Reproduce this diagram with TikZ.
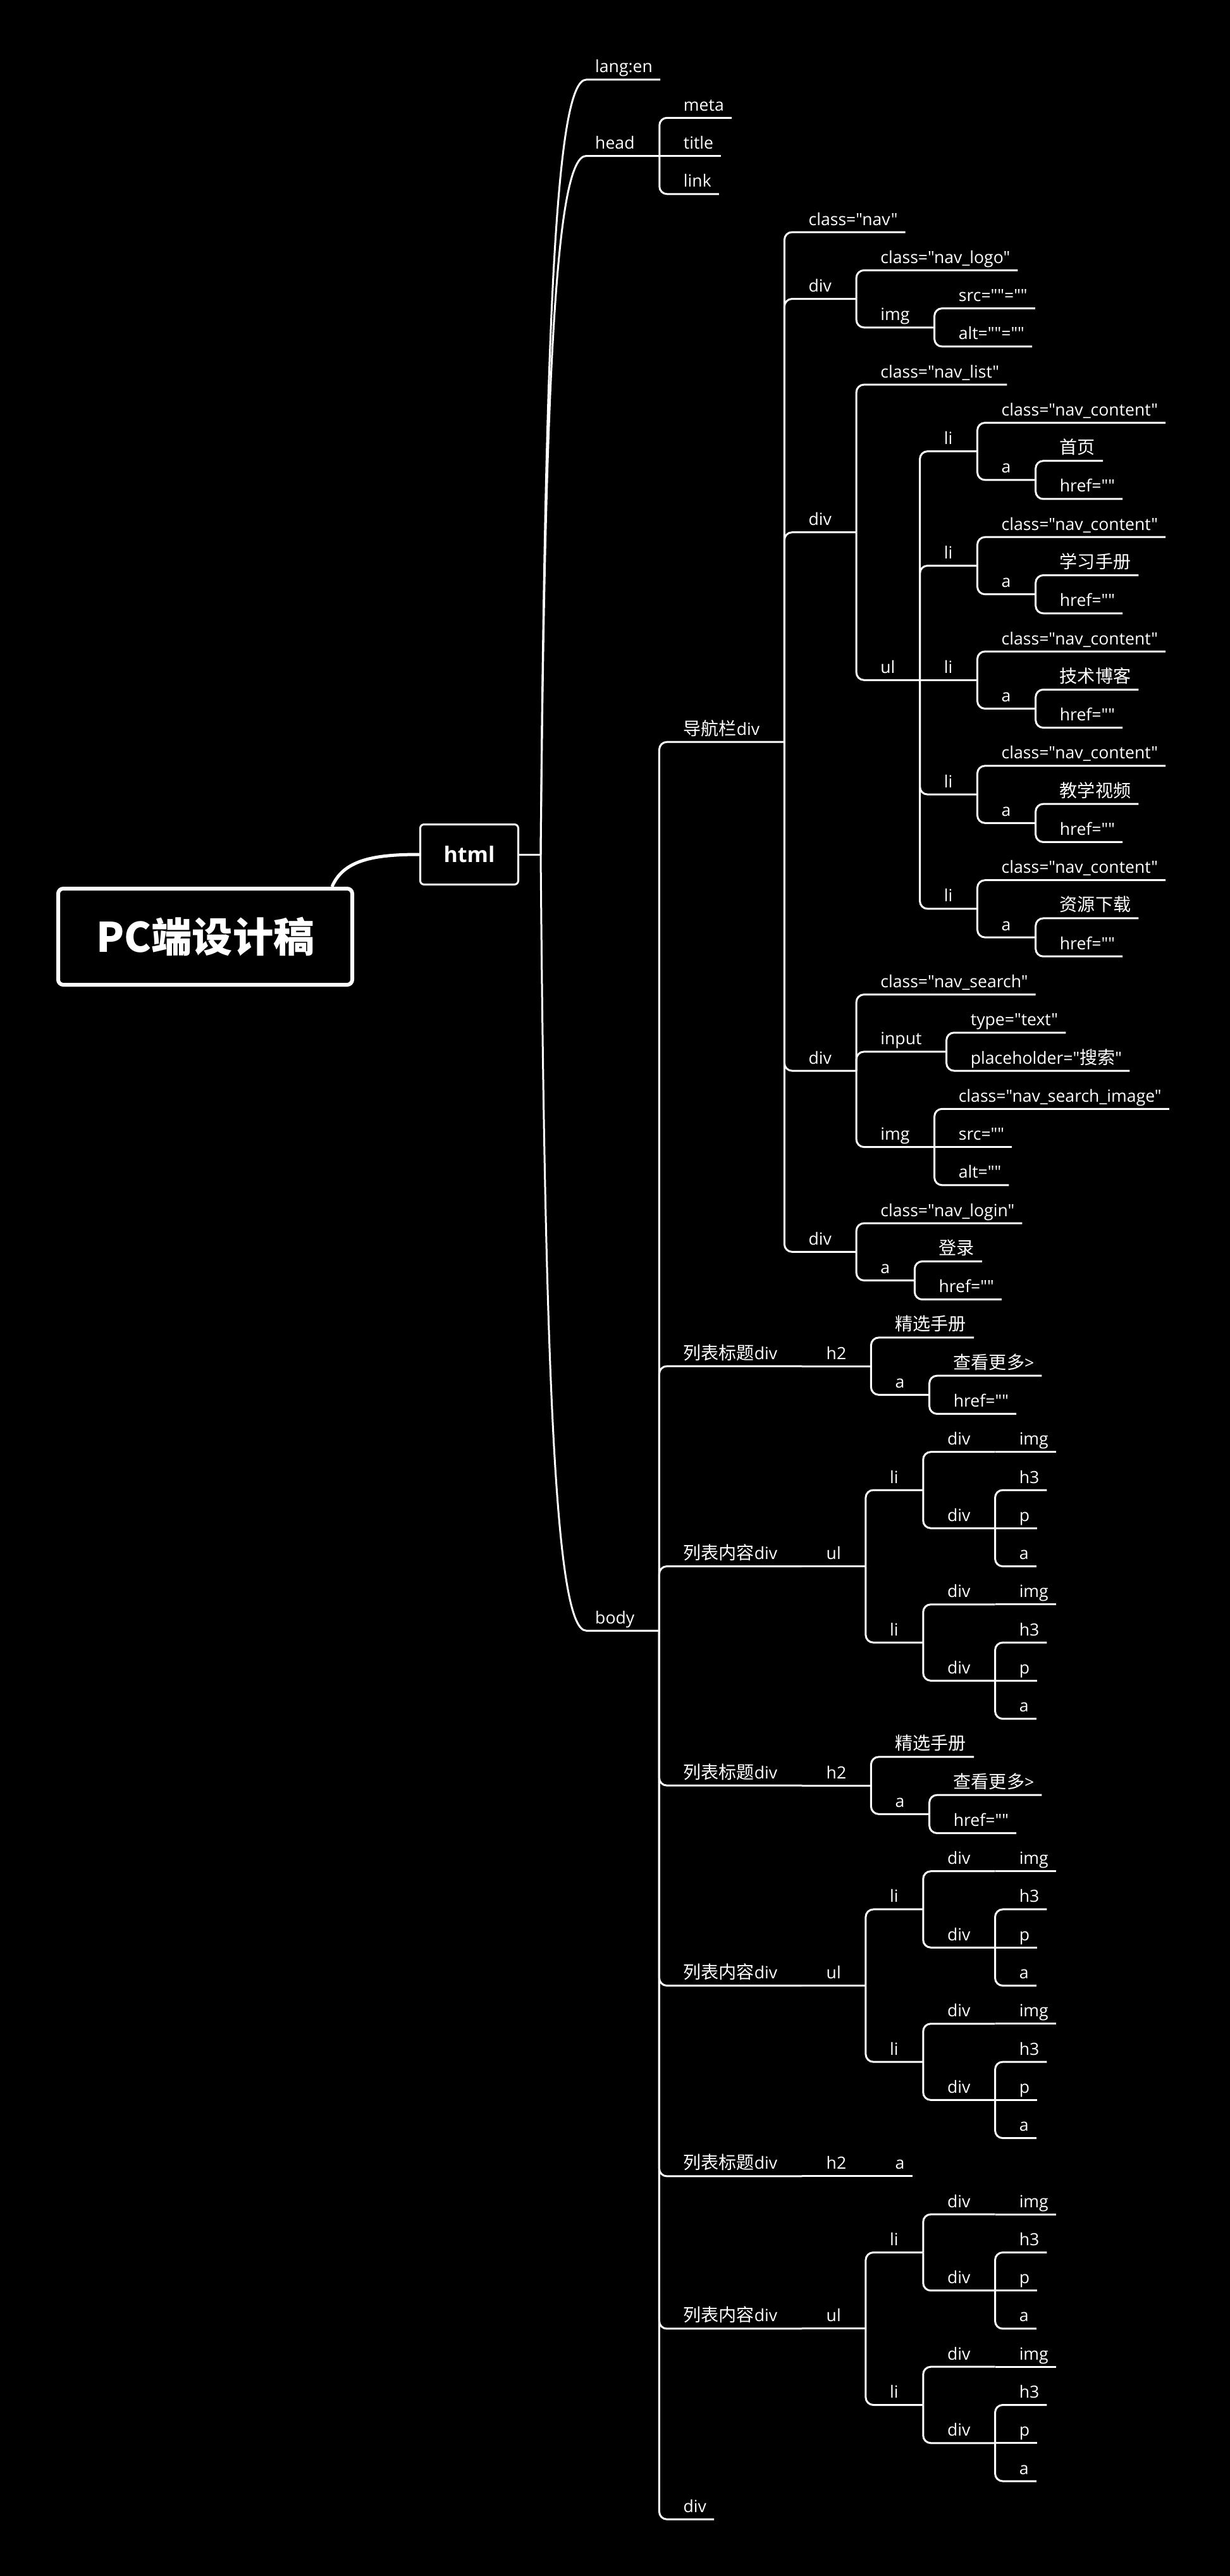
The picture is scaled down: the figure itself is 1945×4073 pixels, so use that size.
\documentclass[tikz,border=0pt]{standalone}
\usepackage{fontspec}
\newfontfamily\lat{Open Sans}
\newfontfamily\cjk{Noto Sans CJK SC}[Scale=1.055]
\usetikzlibrary{calc}
\tikzset{
  txt/.style={inner sep=0pt, anchor=base west, text=white, font=\lat\fontsize{26.6}{32}\selectfont},
  conn/.style={draw=white, line width=3pt, rounded corners=12pt},
  lvl1/.style={draw=white, line width=3pt},
  rootbox/.style={draw=white, line width=6pt, rounded corners=8pt, fill=black, text=white,
    minimum width=465pt, minimum height=152pt, inner sep=0pt, font=\cjk\bfseries\fontsize{61}{70}\selectfont},
  htmlbox/.style={draw=white, line width=3pt, rounded corners=6pt, fill=black, text=white,
    minimum width=155pt, minimum height=95pt, inner sep=0pt, font=\lat\bfseries\fontsize{34}{40}\selectfont},
}
\newcommand\RY[1]{126+60.27*(#1)}
% #1 path op, #2 name, #3 parent, #4 row, #5 pad, #6 text
\newcommand\kid[6][|-]{%
  \node[txt] (#2) at ($(#3-e |- 0,{\RY{#4}})+(38,-11)$) {#6};
  \coordinate (#2-e) at ($(#2.east |- 0,{\RY{#4}})+(#5,0)$);
  \draw[conn] (#3-e) #1 (#2-e);
}
\newcommand\navli[4][|-]{%
  \kid[#1]{#2}{nul}{#3+0.75}{39}{li}
  \kid{#2c}{#2}{#3}{12}{class="nav\_content"}
  \kid{#2a}{#2}{#3+1.5}{39}{a}
  \kid{#2t}{#2a}{#3+1}{12}{{\cjk #4}}
  \kid{#2h}{#2a}{#3+2}{12}{href=""}
}
\newcommand\titleblk[2]{%
  \kid{#1}{body}{#2+0.75}{39}{{\cjk 列表标题}div}
  \kid[--]{#1h}{#1}{#2+0.75}{39}{h2}
  \kid{#1s}{#1h}{#2}{12}{{\cjk 精选手册}}
  \kid{#1a}{#1h}{#2+1.5}{39}{a}
  \kid{#1m}{#1a}{#2+1}{12}{{\cjk 查看更多}>}
  \kid{#1r}{#1a}{#2+2}{12}{href=""}
}
\newcommand\listblk[2]{%
  \kid{#1}{body}{#2+3}{39}{{\cjk 列表内容}div}
  \kid[--]{#1u}{#1}{#2+3}{39}{ul}
  \kid{#1l}{#1u}{#2+1}{39}{li}
  \kid{#1lx}{#1l}{#2}{39}{div}
  \kid[--]{#1lxi}{#1lx}{#2}{12}{img}
  \kid{#1ly}{#1l}{#2+2}{39}{div}
  \kid{#1lyh}{#1ly}{#2+1}{12}{h3}
  \kid[--]{#1lyp}{#1ly}{#2+2}{12}{p}
  \kid{#1lya}{#1ly}{#2+3}{12}{a}
  \kid{#1m}{#1u}{#2+5}{39}{li}
  \kid{#1mx}{#1m}{#2+4}{39}{div}
  \kid[--]{#1mxi}{#1mx}{#2+4}{12}{img}
  \kid{#1my}{#1m}{#2+6}{39}{div}
  \kid{#1myh}{#1my}{#2+5}{12}{h3}
  \kid[--]{#1myp}{#1my}{#2+6}{12}{p}
  \kid{#1mya}{#1my}{#2+7}{12}{a}
}
\begin{document}
\begin{tikzpicture}[x=1pt, y=-1pt]
\useasboundingbox (0,0) rectangle (1945,4073);
\fill[black] (0,0) rectangle (1945,4073);

% root and html
\node[rootbox] (root) at (324.5,1481) {PC端设计稿};
\node[htmlbox] (html) at (742,1351) {html};
\coordinate (rootc) at ($(root.north east)+(-35,0)$);
\draw[white, line width=5pt] (rootc) .. controls +(18,-42) and +(-73,0) .. (html.west);
\coordinate (htmlV) at ($(html.east)+(34,0)$);
\draw[lvl1] (html.east) -- (htmlV);

% level 1
\node[txt] (langen) at (941,{\RY{0}-11}) {lang:en};
\coordinate (langen-s) at (927,{\RY{0}});
\coordinate (langen-e) at ($(langen.east |- langen-s)+(12,0)$);
\draw[lvl1] (htmlV) .. controls (862,494) and (880,{\RY{0}}) .. (langen-s) -- (langen-e);

\node[txt] (head) at (941,{\RY{2}-11}) {head};
\coordinate (head-s) at (927,{\RY{2}});
\coordinate (head-e) at ($(head.east |- head-s)+(39,0)$);
\draw[lvl1] (htmlV) .. controls (862,578) and (880,{\RY{2}}) .. (head-s) -- (head-e);

\node[txt] (body) at (941,{\RY{40.6875}-11}) {body};
\coordinate (body-s) at (927,{\RY{40.6875}});
\coordinate (body-e) at ($(body.east |- body-s)+(39,0)$);
\draw[lvl1] (htmlV) .. controls (862,2210) and (880,{\RY{40.6875}}) .. (body-s) -- (body-e);

% head children
\kid{meta}{head}{1}{12}{meta}
\kid[--]{title}{head}{2}{12}{title}
\kid{link}{head}{3}{12}{link}

% navigation bar
\kid{nav}{body}{17.375}{39}{{\cjk 导航栏}div}
\kid{navc}{nav}{4}{12}{class="nav"}
\kid{d1}{nav}{5.75}{39}{div}
\kid{d1c}{d1}{5}{12}{class="nav\_logo"}
\kid{d1i}{d1}{6.5}{39}{img}
\kid{d1is}{d1i}{6}{12}{src=""=""}
\kid{d1ia}{d1i}{7}{12}{alt=""=""}
\kid{d2}{nav}{11.875}{39}{div}
\kid{d2c}{d2}{8}{12}{class="nav\_list"}
\kid{nul}{d2}{15.75}{39}{ul}
\navli{lA}{9}{首页}
\navli{lB}{12}{学习手册}
\navli[--]{lC}{15}{技术博客}
\navli{lD}{18}{教学视频}
\navli{lE}{21}{资源下载}
\kid{d3}{nav}{26}{39}{div}
\kid{d3c}{d3}{24}{12}{class="nav\_search"}
\kid{d3n}{d3}{25.5}{39}{input}
\kid{d3nt}{d3n}{25}{12}{type="text"}
\kid{d3np}{d3n}{26}{12}{placeholder="{\cjk 搜索}"}
\kid{d3i}{d3}{28}{39}{img}
\kid{d3ic}{d3i}{27}{12}{class="nav\_search\_image"}
\kid[--]{d3is}{d3i}{28}{12}{src=""}
\kid{d3ia}{d3i}{29}{12}{alt=""}
\kid{d4}{nav}{30.75}{39}{div}
\kid{d4c}{d4}{30}{12}{class="nav\_login"}
\kid{d4a}{d4}{31.5}{39}{a}
\kid{d4at}{d4a}{31}{12}{{\cjk 登录}}
\kid{d4ah}{d4a}{32}{12}{href=""}

% list sections
\titleblk{TA}{33}
\listblk{LA}{36}
\titleblk{TB}{44}
\listblk{LB}{47}
\kid{TC}{body}{55}{39}{{\cjk 列表标题}div}
\kid[--]{TCh}{TC}{55}{39}{h2}
\kid[--]{TCa}{TCh}{55}{12}{a}
\listblk{LC}{56}
\kid{bdiv}{body}{64}{12}{div}
\end{tikzpicture}
\end{document}
